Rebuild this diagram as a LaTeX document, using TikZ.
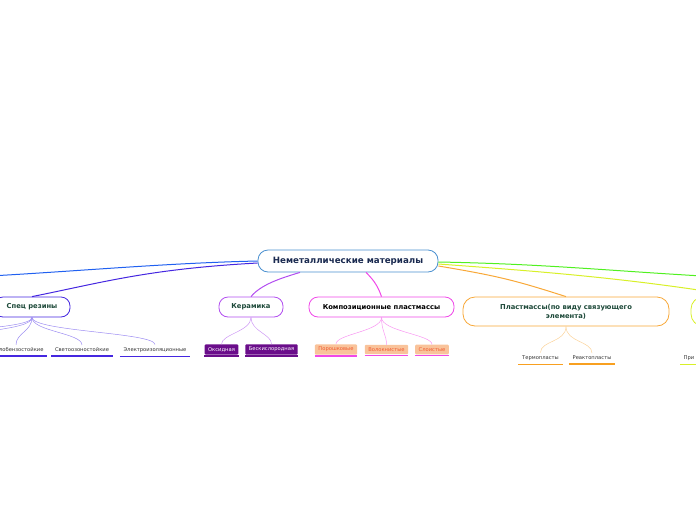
\documentclass[tikz,border=0pt]{standalone}
\usepackage{fontspec}
\setmainfont{DejaVu Sans}
\usepackage{tikz}

\definecolor{rootline}{HTML}{4A90D0}
\definecolor{roottext}{HTML}{1A2A50}
\definecolor{topictext}{HTML}{1E4A3A}
\definecolor{leaftext}{HTML}{333333}
\definecolor{cblue}{HTML}{2060F0}
\definecolor{cspec}{HTML}{4527E0}
\definecolor{cspeclight}{HTML}{9C8CF2}
\definecolor{cceram}{HTML}{B24EF0}
\definecolor{cceramlight}{HTML}{CC96F4}
\definecolor{cceramfill}{HTML}{6A0D8A}
\definecolor{ccomp}{HTML}{F048E8}
\definecolor{ccomplight}{HTML}{F896F2}
\definecolor{ccompfill}{HTML}{F9C39A}
\definecolor{ccomptext}{HTML}{F05A30}
\definecolor{cplast}{HTML}{F8A838}
\definecolor{cplastlight}{HTML}{FBD39A}
\definecolor{cplastline}{HTML}{F8A020}
\definecolor{cyellow}{HTML}{D8F028}
\definecolor{cgreen}{HTML}{50F020}

\begin{document}
\begin{tikzpicture}[x=1pt, y=-1pt,
    main/.style = {draw=#1, fill=white, rounded corners=9pt, line width=0.8pt, minimum height=20pt,
        font=\bfseries\fontsize{6.8}{8.8}\selectfont, text=topictext, align=center},
    leaf/.style = {font=\fontsize{5.2}{6}\selectfont, text=leaftext, inner xsep=3.5pt, inner ysep=2.8pt},
    branch/.style = {draw=#1, line width=1pt},
    twig/.style = {draw=#1, line width=0.5pt}]
    \useasboundingbox (0,0) rectangle (696,520);

    % main topic
    \node[main=rootline, minimum width=180pt, minimum height=22pt, rounded corners=10pt, text=roottext,
        font=\bfseries\fontsize{8.7}{10}\selectfont] (0) at (348,261) {Неметаллические материалы};

    % subtopics
    \node[main=cspec, minimum width=76pt] (1) at (32,307) {Спец резины};
    \node[main=cceram, minimum width=64pt] (2) at (251,307) {Керамика};
    \node[main=ccomp, minimum width=145pt, text=black] (3) at (381.5,307) {Композиционные пластмассы};
    \node[main=cplast, minimum width=206pt, minimum height=29pt, rounded corners=12pt] (4) at (566,311.5) {Пластмассы(по виду связующего\\элемента)};
    \node[main=cyellow, minimum width=100pt, minimum height=29pt, rounded corners=12pt] (5) at (741,311.5) {};
    \coordinate (6) at (-10,276);
    \coordinate (7) at (720,277);

    % leaves
    \node[leaf] (11) at (16,350) {Маслобензостойкие};
    \node[leaf] (12) at (82,350) {Светоозоностойкие};
    \node[leaf] (13) at (155,350) {Электроизоляционные};
    \coordinate (14) at (-45,342);
    \coordinate (15) at (-110,342);
    \node[leaf, fill=cceramfill, text=white, rounded corners=1pt] (21) at (221.5,349.5) {Оксидная};
    \node[leaf, fill=cceramfill, text=white, rounded corners=1pt] (22) at (271.5,349.5) {Бескислородная};
    \node[leaf, fill=ccompfill, text=ccomptext, rounded corners=1pt] (31) at (336,349.5) {Порошковые};
    \node[leaf, fill=ccompfill, text=ccomptext, rounded corners=1pt] (32) at (386.5,349.5) {Волокнистые};
    \node[leaf, fill=ccompfill, text=ccomptext, rounded corners=1pt] (33) at (432,349.5) {Слоистые};
    \node[leaf] (41) at (540.5,358) {Термопласты};
    \node[leaf] (42) at (592,358) {Реактопласты};
    \node[leaf, anchor=west] (51) at (680,358) {При};

    % underlines of the leaves
    \foreach \n/\c in {11/cspec, 12/cspec, 13/cspec, 21/cceramfill, 22/cceramfill, 31/ccomp, 32/ccomp, 33/ccomp,
        41/cplastline, 42/cplastline, 51/cyellow}
        \draw[\c, line width=1.6pt] ([yshift=-1pt]\n.south west) -- ([yshift=-1pt]\n.south east);

    % branches from the main topic
    \draw[branch=cblue] (0.west) .. controls +(-90,2) and +(90,-5) .. (6);
    \draw[branch=cspec] ([yshift=-2pt]0.west) .. controls +(-110,6) and +(70,-14) .. (1.north);
    \draw[branch=cceram] ([xshift=-48pt]0.south) .. controls +(-20,6) and +(10,-12) .. (2.north);
    \draw[branch=ccomp] ([xshift=18pt]0.south) .. controls +(6,6) and +(-4,-12) .. (3.north);
    \draw[branch=cplast] ([yshift=-5pt]0.east) .. controls +(60,10) and +(-50,-16) .. (4.north);
    \draw[branch=cyellow] ([yshift=-3pt]0.east) .. controls +(110,8) and +(-110,-18) .. (5.north);
    \draw[branch=cgreen] ([yshift=-1pt]0.east) .. controls +(110,2) and +(-110,-6) .. (7);

    % twigs to the leaves
    \foreach \a/\b in {1/11, 1/12, 1/13, 1/14, 1/15}
        \draw[twig=cspeclight] (\a.south) .. controls +(0,14) and +(0,-12) .. (\b.north);
    \foreach \a/\b in {2/21, 2/22}
        \draw[twig=cceramlight] (\a.south) .. controls +(0,14) and +(0,-10) .. (\b.north);
    \foreach \a/\b in {3/31, 3/32, 3/33}
        \draw[twig=ccomplight] (\a.south) .. controls +(0,14) and +(0,-10) .. (\b.north);
    \foreach \a/\b in {4/41, 4/42}
        \draw[twig=cplastlight] (\a.south) .. controls +(0,16) and +(0,-12) .. (\b.north);
\end{tikzpicture}
\end{document}
